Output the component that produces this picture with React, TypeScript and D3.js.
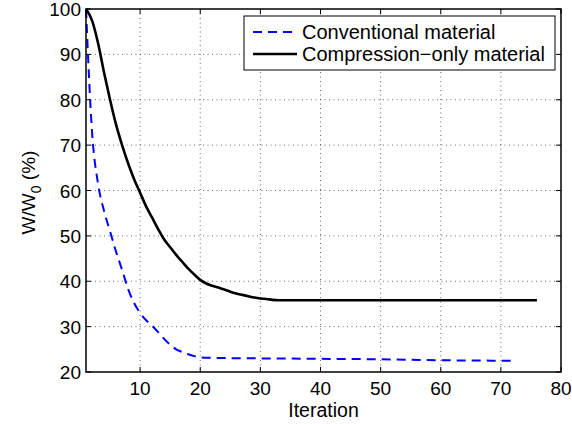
import React from "react";
import * as d3 from "d3";

const convIter = [1, 2, 3, 4, 5, 6, 7, 8, 9, 10, 11, 12, 13, 14, 15, 16, 17, 18, 19, 20, 21, 25, 30, 40, 50, 60, 70, 72];
const convVal = [100, 73, 61.5, 55.5, 51, 46.5, 42.5, 38.3, 35.2, 33, 31.4, 30.2, 28.8, 27.3, 26, 25, 24.4, 23.9, 23.5, 23.2, 23.15, 23.05, 23.0, 22.9, 22.8, 22.6, 22.5, 22.5];

const compIter = [1, 2, 3, 4, 5, 6, 7, 8, 9, 10, 11, 12, 13, 14, 15, 16, 17, 18, 19, 20, 21, 22, 23, 24, 25, 26, 27, 28, 29, 30, 31, 32, 33, 40, 50, 60, 70, 76];
const compVal = [100, 97.5, 92.5, 86, 80, 74.5, 70, 66, 62.5, 59.5, 56.5, 54, 51.5, 49.2, 47.5, 45.8, 44.3, 42.8, 41.5, 40.3, 39.5, 39, 38.6, 38.2, 37.7, 37.3, 37, 36.7, 36.4, 36.2, 36.1, 35.9, 35.8, 35.8, 35.8, 35.8, 35.8, 35.8];

const xTicks = [10, 20, 30, 40, 50, 60, 70, 80];
const yTicks = [20, 30, 40, 50, 60, 70, 80, 90, 100];
const legendLabels = ["Conventional material", "Compression\u2212only material"];

export default function App() {
  const L = 86, R = 561, T = 9, B = 372;
  const x = d3.scaleLinear().domain([1, 80]).range([L, R]);
  const y = d3.scaleLinear().domain([20, 100]).range([B, T]);
  const line = d3.line<[number, number]>().x((d) => x(d[0])).y((d) => y(d[1])).curve(d3.curveMonotoneX);
  const conv = convIter.map((v, i) => [v, convVal[i]] as [number, number]);
  const comp = compIter.map((v, i) => [v, compVal[i]] as [number, number]);
  const font = "Helvetica, Arial, 'Liberation Sans', sans-serif";
  const fs = 19;
  return (
    <svg width={572} height={424} style={{ position: "absolute", left: 0, top: 0, background: "#fff" }} fontFamily={font}>
      <rect x={0} y={0} width={572} height={424} fill="#fff" />
      {/* grid */}
      {xTicks.filter((t) => t < 80).map((t) => (
        <line key={"gx" + t} x1={x(t)} x2={x(t)} y1={T} y2={B} stroke="#444" strokeWidth={0.8} strokeDasharray="1,3.5" />
      ))}
      {yTicks.filter((t) => t > 20 && t < 100).map((t) => (
        <line key={"gy" + t} x1={L} x2={R} y1={y(t)} y2={y(t)} stroke="#444" strokeWidth={0.8} strokeDasharray="1,3.5" />
      ))}
      {/* ticks */}
      {xTicks.map((t) => (
        <g key={"tx" + t}>
          <line x1={x(t)} x2={x(t)} y1={B} y2={B - 5} stroke="#000" />
          <line x1={x(t)} x2={x(t)} y1={T} y2={T + 5} stroke="#000" />
          <text x={x(t)} y={B + 23} fontSize={fs} textAnchor="middle" fill="#000">{t}</text>
        </g>
      ))}
      {yTicks.map((t) => (
        <g key={"ty" + t}>
          <line x1={L} x2={L + 5} y1={y(t)} y2={y(t)} stroke="#000" />
          <line x1={R} x2={R - 5} y1={y(t)} y2={y(t)} stroke="#000" />
          <text x={L - 5} y={y(t) + 7} fontSize={fs} textAnchor="end" fill="#000">{t}</text>
        </g>
      ))}
      {/* data */}
      <path d={line(conv) || ""} fill="none" stroke="#0000ff" strokeWidth={2} strokeDasharray="9,6" />
      <path d={line(comp) || ""} fill="none" stroke="#000" strokeWidth={2.6} />
      {/* box */}
      <rect x={L} y={T} width={R - L} height={B - T} fill="none" stroke="#000" strokeWidth={1.5} />
      {/* labels */}
      <text x={(L + R) / 2} y={417} fontSize={19.5} textAnchor="middle" fill="#000">Iteration</text>
      <text transform={`translate(35,${(T + B) / 2 + 2}) rotate(-90)`} fontSize={fs} textAnchor="middle" fill="#000">
        W/W<tspan dy={6} fontSize={14}>0</tspan><tspan dy={-6}> (%)</tspan>
      </text>
      {/* legend */}
      <rect x={244} y={16} width={311} height={54} fill="#fff" stroke="#000" strokeWidth={1} />
      <line x1={253} x2={297} y1={32} y2={32} stroke="#0000ff" strokeWidth={2} strokeDasharray="9,6" />
      <line x1={253} x2={297} y1={54} y2={54} stroke="#000" strokeWidth={2.6} />
      <text x={302} y={39} fontSize={20} fill="#000">{legendLabels[0]}</text>
      <text x={302} y={61} fontSize={20} fill="#000">{legendLabels[1]}</text>
    </svg>
  );
}
